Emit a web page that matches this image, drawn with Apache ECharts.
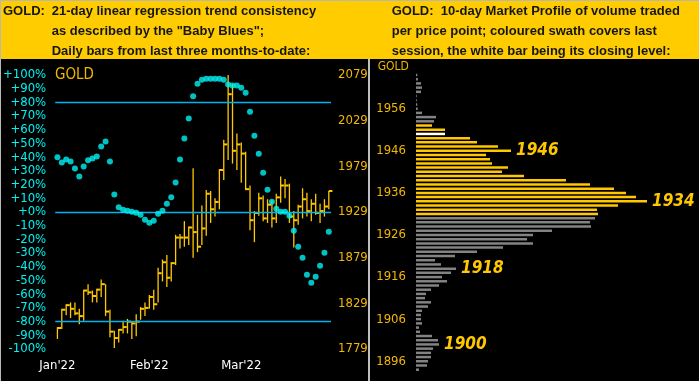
<!DOCTYPE html>
<html><head><meta charset="utf-8">
<script src="https://cdn.jsdelivr.net/npm/echarts@6/dist/echarts.min.js"></script>
<style>html,body{margin:0;padding:0;background:#000;}#c{width:699px;height:381px;}</style>
</head><body><div id="c"></div>
<script>
// ---------- Left panel data (daily HLC bars + Baby Blues) ----------
const barHigh  = [1803,1823,1828,1830,1830,1823,1844,1850,1843,1845,1855,1850,1822,1799,1801,1810,1812,1809,1817,1825,1830,1838,1844,1868,1877,1882,1874,1904,1905,1919,1913,1977,1926,1936,1953,1952,1944,1976,2008,2079,2069,2015,2005,1995,1958,1930,1950,1947,1943,1942,1949,1968,1965,1960,1930,1937,1955,1950,1943,1949,1938,1943,1952];
const barLow   = [1790,1801,1816,1813,1816,1806,1810,1838,1830,1830,1836,1815,1792,1780,1786,1796,1796,1790,1793,1811,1815,1823,1822,1830,1853,1847,1853,1871,1889,1891,1893,1879,1885,1893,1903,1917,1924,1932,1964,1986,1982,1975,1961,1953,1909,1896,1925,1919,1917,1912,1917,1939,1944,1917,1890,1915,1922,1924,1919,1926,1917,1924,1932];
const barClose = [1802,1822,1827,1823,1818,1815,1843,1841,1837,1844,1850,1820,1798,1791,1800,1803,1809,1807,1809,1823,1824,1836,1828,1862,1874,1857,1873,1901,1901,1901,1912,1907,1891,1911,1949,1932,1940,1975,2003,2058,1996,2003,1993,1954,1920,1928,1944,1922,1937,1922,1945,1958,1958,1924,1920,1935,1943,1930,1938,1928,1930,1935,1952];
const babyBlues = [40,36.2,38.4,36.9,31.8,26,33.3,37.7,39.1,40.6,47.9,51.5,36.9,12.8,3.4,1.7,0.9,0.2,-0.5,-2,-5.6,-7.8,-6.4,-1.2,0.9,6.1,10.7,21.6,38.4,53.7,68.3,84.4,93.6,96.6,97.3,97.3,97.3,97.3,96.6,93.1,92.4,92.4,90.7,87.1,73.2,55.7,42.6,28.7,16.3,7.5,2.4,0.2,0.2,-2.7,-13.7,-25.3,-33.4,-45.8,-51.6,-47.2,-39.2,-29.7,-14.4];
const monthTickIndex  = [0,21,42];
const monthTickLabels = ["Jan'22","Feb'22","Mar'22"];
const refLevels = [80,0,-80];
const PRICE_BASE = 1929;   // right axis labels: 1779 ... 2079

// ---------- Right panel data (10-day market profile) ----------
const profilePricesDesc = [1964,1963,1962,1961,1960,1959,1958,1957,1956,1955,1954,1953,1952,1951,1950,1949,1948,1947,1946,1945,1944,1943,1942,1941,1940,1939,1938,1937,1936,1935,1934,1933,1932,1931,1930,1929,1928,1927,1926,1925,1924,1923,1922,1921,1920,1919,1918,1917,1916,1915,1914,1913,1912,1911,1910,1909,1908,1907,1906,1905,1904,1903,1902,1901,1900,1899,1898,1897,1896,1895,1894];
const profileVolDesc    = [1.3,1.9,5,6,5,0.7,0.7,1.3,1.7,6,20,18,16,29,29,54,61,82,95,70,74,76,92,86,108,150,174,198,210,220,231,202,181,182,179,174,175,136,117,111,117,87,61,39,19,25,40,35,26,31,23,15,10,9,15,12,6,5,5,6,3,4,16,22,23,17,15,15,12,11,3];
const sessionLow = 1931, sessionHigh = 1952, sessionClose = 1950;
const annotatedPrices = [1946,1934,1918,1900];

const GOLD = '#ffc800', GOLD_TXT = '#f2b700', CYAN = '#00f2f2', BLUE = '#00b4f2', GRAY = '#838383';
const NARROW = '"Liberation Sans Narrow","Arial Narrow","DejaVu Sans Condensed",sans-serif';
const HEAD = 'bold 13px "Liberation Sans", Arial, sans-serif';

const categories = barHigh.map((_, i) => String(i));
const profAsc = profilePricesDesc.slice().reverse();
const volAsc = profileVolDesc.slice().reverse();
const profileData = profAsc.map((p, i) => {
  let color = GRAY;
  if (p >= sessionLow && p <= sessionHigh) color = GOLD;
  if (p === sessionClose) color = '#ffffff';
  const item = { value: volAsc[i], itemStyle: { color } };
  if (annotatedPrices.includes(p)) {
    item.label = { show: true, position: 'right', distance: 5, formatter: String(p),
      color: GOLD, fontSize: 17, fontStyle: 'italic', fontWeight: 'bold', fontFamily: NARROW };
  }
  return item;
});

const chart = echarts.init(document.getElementById('c'), null, { renderer: 'canvas' });
chart.setOption({
  animation: false,
  backgroundColor: '#000',
  grid: [
    { left: 50, top: 75, width: 281, height: 274 },
    { left: 416, top: 72.9, width: 283, height: 298.9 }
  ],
  xAxis: [
    { type: 'category', gridIndex: 0, data: categories, boundaryGap: true,
      axisLine: { show: false }, axisTick: { show: false }, splitLine: { show: false },
      axisLabel: { color: '#ffffff', fontFamily: NARROW, fontSize: 13, margin: 10,
        interval: (idx) => monthTickIndex.includes(idx),
        formatter: (v, idx) => monthTickLabels[monthTickIndex.indexOf(idx)] || '' } },
    { type: 'value', gridIndex: 1, min: 0, max: 283, show: false }
  ],
  yAxis: [
    { type: 'value', gridIndex: 0, position: 'left', min: -100, max: 100, interval: 10,
      axisLine: { show: false }, axisTick: { show: false }, splitLine: { show: false },
      axisLabel: { color: CYAN, fontFamily: NARROW, fontSize: 13, margin: 9,
        formatter: v => (v >= 0 ? '+' : '') + v + '%' } },
    { type: 'value', gridIndex: 0, position: 'right', min: -150, max: 150, interval: 50,
      axisLine: { show: false }, axisTick: { show: false }, splitLine: { show: false },
      axisLabel: { color: GOLD_TXT, fontFamily: NARROW, fontSize: 13, margin: 7,
        formatter: v => String(v + PRICE_BASE) } },
    { type: 'category', gridIndex: 1, data: profAsc.map(String),
      axisLine: { show: false }, axisTick: { show: false }, splitLine: { show: false },
      axisLabel: { color: GOLD_TXT, fontFamily: NARROW, fontSize: 13, margin: 10,
        interval: (i, v) => Number(v) % 10 === 6 } }
  ],
  series: [
    { type: 'custom', xAxisIndex: 0, yAxisIndex: 1, clip: false,
      data: barHigh.map((h, i) => [i, h - PRICE_BASE, barLow[i] - PRICE_BASE, barClose[i] - PRICE_BASE]),
      encode: { x: 0, y: [1, 2, 3] },
      renderItem: (params, api) => {
        const x = api.value(0);
        const ph = api.coord([x, api.value(1)]);
        const pl = api.coord([x, api.value(2)]);
        const pc = api.coord([x, api.value(3)]);
        return { type: 'group', children: [
          { type: 'line', shape: { x1: ph[0], y1: ph[1], x2: pl[0], y2: pl[1] }, style: { stroke: GOLD, lineWidth: 1.3 } },
          { type: 'line', shape: { x1: pc[0], y1: pc[1], x2: pc[0] + 3.6, y2: pc[1] }, style: { stroke: GOLD, lineWidth: 2 } }
        ] };
      } },
    { type: 'scatter', xAxisIndex: 0, yAxisIndex: 0, data: babyBlues, symbol: 'circle', symbolSize: 6,
      itemStyle: { color: CYAN }, z: 5,
      markLine: { silent: true, symbol: 'none', label: { show: false },
        lineStyle: { color: BLUE, width: 1.4, type: 'solid' },
        data: refLevels.map(v => ({ yAxis: v })) } },
    { type: 'bar', xAxisIndex: 1, yAxisIndex: 2, data: profileData, barWidth: 2.5 }
  ],
  graphic: [
    { type: 'rect', shape: { x: 0, y: 0, width: 699, height: 59 }, style: { fill: '#ffcc00' }, z: -10 },
    { type: 'line', shape: { x1: 0.5, y1: 0, x2: 0.5, y2: 381 }, style: { stroke: '#b8b8b8', lineWidth: 1 } },
    { type: 'line', shape: { x1: 0, y1: 0.5, x2: 699, y2: 0.5 }, style: { stroke: '#b8b8b8', lineWidth: 1 } },
    { type: 'text', style: { text: 'GOLD:', x: 3, y: 11.7, font: HEAD, fill: '#161616', verticalAlign: 'middle' } },
    { type: 'text', style: { text: '21-day linear regression trend consistency', x: 51.7, y: 11.7, font: HEAD, fill: '#161616', verticalAlign: 'middle' } },
    { type: 'text', style: { text: 'as described by the "Baby Blues";', x: 51.7, y: 31.7, font: HEAD, fill: '#161616', verticalAlign: 'middle' } },
    { type: 'text', style: { text: 'Daily bars from last three months-to-date:', x: 51.7, y: 51, font: HEAD, fill: '#161616', verticalAlign: 'middle' } },
    { type: 'text', style: { text: 'GOLD:  10-day Market Profile of volume traded', x: 391.7, y: 11.7, font: HEAD, fill: '#161616', verticalAlign: 'middle' } },
    { type: 'text', style: { text: 'per price point; coloured swath covers last', x: 391.7, y: 31.7, font: HEAD, fill: '#161616', verticalAlign: 'middle' } },
    { type: 'text', style: { text: 'session, the white bar being its closing level:', x: 391.7, y: 51, font: HEAD, fill: '#161616', verticalAlign: 'middle' } },
    { type: 'text', style: { text: 'GOLD', x: 55, y: 75, font: '15px ' + NARROW, fill: GOLD_TXT, verticalAlign: 'middle' } },
    { type: 'text', style: { text: 'GOLD', x: 377.7, y: 67.3, font: '12px ' + NARROW, fill: GOLD_TXT, verticalAlign: 'middle' } },
    { type: 'line', shape: { x1: 369, y1: 59, x2: 369, y2: 381 }, style: { stroke: '#ffffff', lineWidth: 1.5 } }
  ]
});
</script>
</body></html>
